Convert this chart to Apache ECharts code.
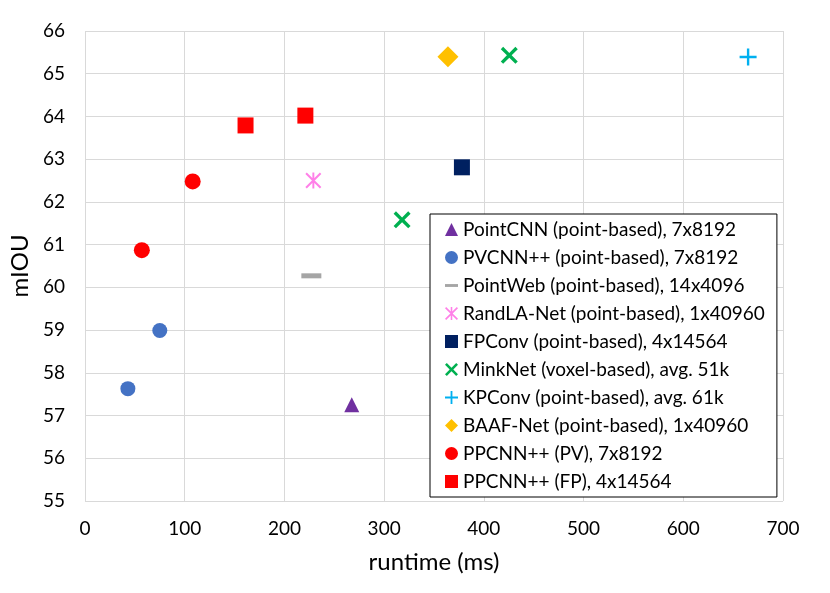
<!DOCTYPE html>
<html>
<head>
<meta charset="utf-8">
<script src="https://cdn.jsdelivr.net/npm/echarts@6/dist/echarts.min.js"></script>
<style>
  html, body { margin: 0; padding: 0; background: #fff; }
  #main { width: 830px; height: 593px; }
</style>
</head>
<body>
<div id="main"></div>
<script>
// values: [runtime (ms), mIOU]
var pointCNN = [[267.5, 57.25]];
var pvcnn    = [[43, 57.63], [75, 58.99]];
var pointWeb = [[227, 60.27]];
var randLA   = [[229, 62.5]];
var fpConv   = [[378, 62.81]];
var minkNet  = [[318, 61.58], [425.5, 65.43]];
var kpConv   = [[665, 65.39]];
var baafNet  = [[364, 65.4]];
var ppcnnPV  = [[57, 60.87], [108, 62.48]];
var ppcnnFP  = [[161, 63.79], [221, 64.02]];

var names = [
  'PointCNN (point-based), 7x8192',
  'PVCNN++ (point-based), 7x8192',
  'PointWeb (point-based), 14x4096',
  'RandLA-Net (point-based), 1x40960',
  'FPConv (point-based), 4x14564',
  'MinkNet (voxel-based), avg. 51k',
  'KPConv (point-based), avg. 61k',
  'BAAF-Net (point-based), 1x40960',
  'PPCNN++ (PV), 7x8192',
  'PPCNN++ (FP), 4x14564'
];

// marker shapes
var crossX = 'path://M0,14 L14,0 L50,36 L86,0 L100,14 L64,50 L100,86 L86,100 L50,64 L14,100 L0,86 L36,50 Z';
var plus = 'path://M43,0 L57,0 L57,43 L100,43 L100,57 L57,57 L57,100 L43,100 L43,57 L0,57 L0,43 L43,43 Z';
var star = 'path://M44,0 L56,0 L56,100 L44,100 Z M0,9 L9,0 L100,91 L91,100 Z M91,0 L100,9 L9,100 L0,91 Z';
var dash = 'path://M0,0 L100,0 L100,22 L0,22 Z';

var font = 'Lato';

var dom = document.getElementById('main');
var myChart = echarts.init(dom);

function sc(name, data, symbol, size, color) {
  return {
    name: name,
    type: 'scatter',
    data: data,
    symbol: symbol,
    symbolSize: size,
    itemStyle: { color: color, opacity: 1 },
    z: 3
  };
}

var option = {
  animation: false,
  grid: { left: 85, right: 47, top: 31, bottom: 92 },
  legend: {
    orient: 'vertical',
    left: 430,
    top: 214,
    backgroundColor: '#fff',
    borderColor: '#000',
    borderWidth: 1,
    borderRadius: 0,
    padding: [6, 12, 6, 15],
    itemWidth: 13,
    itemHeight: 13,
    itemGap: 9,
    textStyle: { fontFamily: font, fontSize: 19, color: '#000', lineHeight: 18 },
    data: [
      { name: names[0], icon: 'triangle' },
      { name: names[1], icon: 'circle' },
      { name: names[2], icon: dash },
      { name: names[3], icon: star },
      { name: names[4], icon: 'rect' },
      { name: names[5], icon: crossX },
      { name: names[6], icon: plus },
      { name: names[7], icon: 'diamond' },
      { name: names[8], icon: 'circle' },
      { name: names[9], icon: 'rect' }
    ]
  },
  xAxis: {
    type: 'value',
    min: 0,
    max: 700,
    interval: 100,
    name: 'runtime (ms)',
    nameLocation: 'middle',
    nameGap: 49,
    nameTextStyle: { fontFamily: font, fontSize: 24, color: '#000' },
    axisLine: { show: false },
    axisTick: { show: false },
    axisLabel: { fontFamily: font, fontSize: 19, color: '#000', margin: 18 },
    splitLine: { show: true, lineStyle: { color: '#d9d9d9', width: 1 } }
  },
  yAxis: {
    type: 'value',
    min: 55,
    max: 66,
    interval: 1,
    name: 'mIOU',
    nameLocation: 'middle',
    nameGap: 46,
    nameTextStyle: { fontFamily: font, fontSize: 24, color: '#000' },
    axisLine: { show: false },
    axisTick: { show: false },
    axisLabel: { fontFamily: font, fontSize: 19, color: '#000', margin: 20 },
    splitLine: { show: true, lineStyle: { color: '#d9d9d9', width: 1 } }
  },
  series: [
    sc(names[0], pointCNN, 'triangle', 15, '#7030a0'),
    sc(names[1], pvcnn, 'circle', 15, '#4472c4'),
    sc(names[2], pointWeb, dash, [20, 5], '#a5a5a5'),
    sc(names[3], randLA, star, 16, '#ff80e8'),
    sc(names[4], fpConv, 'rect', 16, '#002060'),
    sc(names[5], minkNet, crossX, 17, '#00b050'),
    sc(names[6], kpConv, plus, 17, '#00b0f0'),
    sc(names[7], baafNet, 'diamond', [21, 21], '#ffc000'),
    sc(names[8], ppcnnPV, 'circle', 16, '#ff0000'),
    sc(names[9], ppcnnFP, 'rect', 16, '#ff0000')
  ]
};

if (option && typeof option === 'object') {
  myChart.setOption(option, true);
}
</script>
</body>
</html>
